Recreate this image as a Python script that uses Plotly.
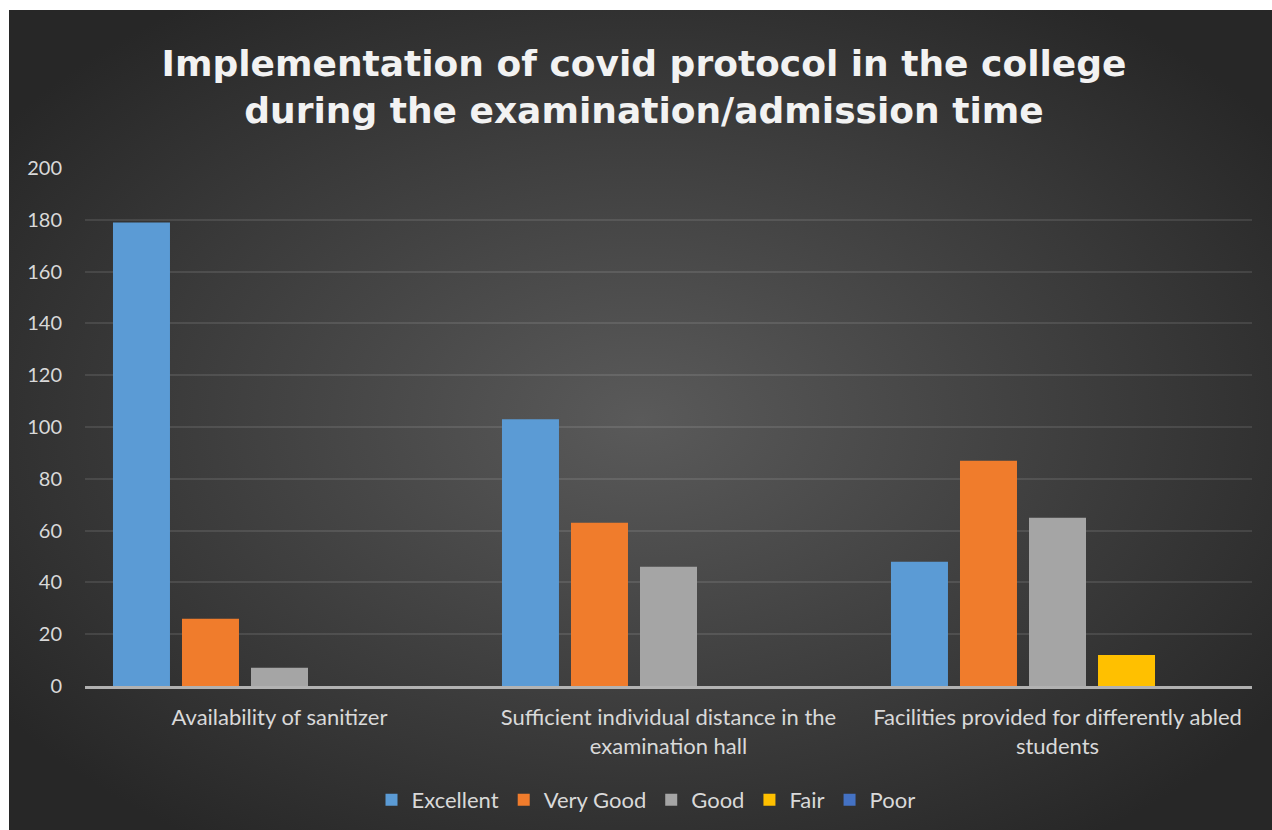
import base64
import plotly.graph_objects as go

categories = [
    "Availability of sanitizer",
    "Sufficient individual distance in the<br>examination hall",
    "Facilities provided for differently abled<br>students",
]
series_names = ["Excellent", "Very Good", "Good", "Fair", "Poor"]
excellent = [179, 103, 48]
very_good = [26, 63, 87]
good = [7, 46, 65]
fair = [0, 0, 12]
poor = [0, 0, 0]
y_ticks = [0, 20, 40, 60, 80, 100, 120, 140, 160, 180, 200]

values = [excellent, very_good, good, fair, poor]
colors = ["#5B9BD5", "#F07C2C", "#A5A5A5", "#FFC000", "#4472C4"]

W, H = 1272, 830
L, R, T, B = 85, 20, 168, 144
pw, ph = W - L - R, H - T - B

fig = go.Figure()
for name, vals, c in zip(series_names, values, colors):
    fig.add_trace(go.Bar(name=name, x=categories, y=vals,
                         marker=dict(color=c, line=dict(width=0))))

svg = (
    "<svg xmlns='http://www.w3.org/2000/svg' width='1263' height='820' viewBox='0 0 1263 820' preserveAspectRatio='none'>"
    "<defs><radialGradient id='g' cx='50%' cy='50%' r='62%'>"
    "<stop offset='0' stop-color='#5a5a5a'/><stop offset='1' stop-color='#272727'/>"
    "</radialGradient></defs><rect width='1263' height='820' fill='url(#g)'/></svg>"
)
src = "data:image/svg+xml;base64," + base64.b64encode(svg.encode()).decode()

x0 = (9 - L) / pw
x1 = (W - L) / pw
y_top = (H - B - 10) / ph
y_bot = (H - B - H) / ph

fig.add_layout_image(dict(source=src, xref="paper", yref="paper",
                          x=x0, y=y_top, sizex=x1 - x0, sizey=y_top - y_bot,
                          xanchor="left", yanchor="top", sizing="stretch",
                          layer="below"))

fig.update_layout(
    width=W, height=H,
    margin=dict(l=L, r=R, t=T, b=B, autoexpand=False),
    paper_bgcolor="white",
    plot_bgcolor="rgba(0,0,0,0)",
    barmode="group",
    bargap=0.113,
    bargroupgap=0.174,
    font=dict(family="Lato", color="#D9D9D9"),
    title=dict(
        text="Implementation of covid protocol in the college<br>during the examination/admission time",
        font=dict(family="DejaVu Sans", size=36, color="#F2F2F2", weight="bold"),
        x=644 / W, xref="container", xanchor="center",
        y=1 - 76 / H, yref="container", yanchor="middle",
    ),
    xaxis=dict(
        showline=True, linecolor="rgba(200,200,200,0.85)", linewidth=3,
        showgrid=False, ticks="", tickfont=dict(size=22, color="#D9D9D9"),
        fixedrange=True, tickangle=0, ticklabelstandoff=10,
    ),
    yaxis=dict(
        range=[0, 200], tickvals=y_ticks, showgrid=True,
        gridcolor="rgba(255,255,255,0.1)", gridwidth=1.5,
        zeroline=False, showline=False, ticks="",
        tickfont=dict(size=20, color="#D9D9D9"), ticklabelstandoff=22,
    ),
    legend=dict(
        orientation="h", x=(646 - L) / pw, xanchor="center",
        y=(H - B - 800) / ph, yanchor="middle",
        font=dict(size=22, color="#D9D9D9"), bgcolor="rgba(0,0,0,0)",
        itemwidth=30, traceorder="normal",
    ),
    showlegend=True,
)

fig.write_html(
    "out.html",
    config={"displayModeBar": False},
    post_script="document.body.style.margin='0';document.body.style.overflow='hidden';",
)
